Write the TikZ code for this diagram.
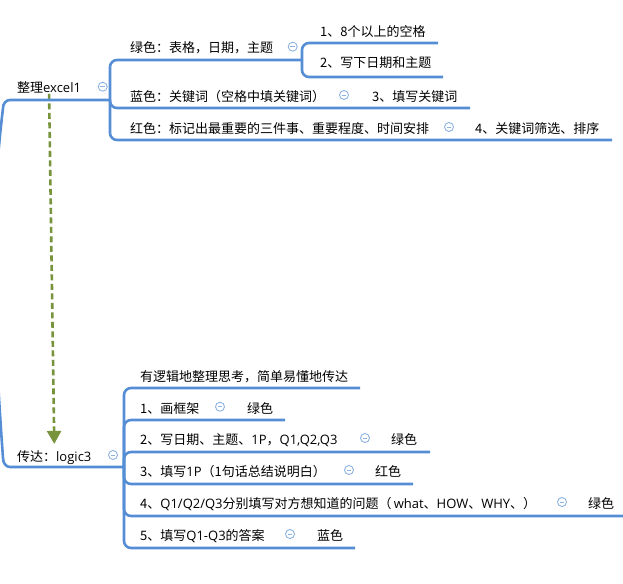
\documentclass[tikz,border=0pt]{standalone}
\usepackage{fontspec}
\setmainfont{Noto Sans CJK SC}
\newfontfamily\latinfont{Open Sans}
\newcommand\en[1]{{\latinfont #1}}
\usepackage{tikz}
\usetikzlibrary{arrows.meta}
\usepackage{xcolor}
\definecolor{bluecustom}{RGB}{85,142,213}
\definecolor{iconcustom}{RGB}{141,179,226}
\definecolor{greencustom}{RGB}{119,147,60}

\tikzset{
  branch/.style={draw=bluecustom, line width=2.6pt, rounded corners=7pt},
  topic/.style={anchor=base west, inner sep=0pt, font=\fontsize{13}{15}\selectfont},
  fold/.style={circle, draw=iconcustom, line width=0.9pt, minimum size=9pt, inner sep=0pt,
    path picture={\draw[iconcustom, line width=0.9pt]
      ([xshift=-2.3pt]path picture bounding box.center) -- ([xshift=2.3pt]path picture bounding box.center);}},
  relation/.style={draw=greencustom, line width=2.6pt, dash pattern=on 6pt off 3.5pt,
    -{Triangle[width=14pt,length=13pt]}}
}

\begin{document}
\begin{tikzpicture}[x=1pt, y=-1pt]
    \clip (0,0) rectangle (623,583);

    % upper topic
    \node[topic] (ex) at (17,93) {整理\en{excel1}};
    \node[topic] (gr) at (130,53) {绿色：表格，日期，主题};
    \node[topic] (gr1) at (320,37) {1、8个以上的空格};
    \node[topic] (gr2) at (320,68) {2、写下日期和主题};
    \node[topic] (bl) at (130,101.5) {蓝色：关键词（空格中填关键词）};
    \node[topic] (bl1) at (372,101.5) {3、填写关键词};
    \node[topic] (rd) at (130,133) {红色：标记出最重要的三件事、重要程度、时间安排};
    \node[topic] (rd1) at (475,133) {4、关键词筛选、排序};

    % lower topic
    \node[topic] (lg) at (17,461) {传达：\en{logic3}};
    \node[topic] (lg0) at (140,381.5) {有逻辑地整理思考，简单易懂地传达};
    \node[topic] (lg1) at (140,413) {1、画框架};
    \node[topic] (lg1c) at (247,413) {绿色};
    \node[topic] (lg2) at (140,444.5) {2、写日期、主题、\en{1P}，\en{Q1,Q2,Q3}};
    \node[topic] (lg2c) at (391,444.5) {绿色};
    \node[topic] (lg3) at (140,476.5) {3、填写\en{1P}（1句话总结说明白）};
    \node[topic] (lg3c) at (375,476.5) {红色};
    \node[topic] (lg4) at (140,508) {4、\en{Q1/Q2/Q3}分别填写对方想知道的问题（\,\en{what}、\en{HOW}、\en{WHY}、）};
    \node[topic] (lg4c) at (588,508) {绿色};
    \node[topic] (lg5) at (140,540) {5、填写\en{Q1-Q3}的答案};
    \node[topic] (lg5c) at (317,540) {蓝色};

    % collapse marks
    \node[fold] (f-ex) at (102.7,86.7) {};
    \node[fold] (f-gr) at (292.7,46.7) {};
    \node[fold] (f-bl) at (344,95) {};
    \node[fold] (f-rd) at (449,127) {};
    \node[fold] (f-lg) at (113,455) {};
    \node[fold] (f-lg1) at (220,406.7) {};
    \node[fold] (f-lg2) at (365,438) {};
    \node[fold] (f-lg3) at (349,470) {};
    \node[fold] (f-lg4) at (562,502) {};
    \node[fold] (f-lg5) at (290,534) {};

    % line ends
    \coordinate (ex-in) at (110,100);
    \coordinate (gr-in) at (302,60);
    \coordinate (lg-in) at (124,467);

    % relation
    \draw[relation] (ex.south) -- ([yshift=6pt]lg.north);

    % root curve
    \draw[branch, rounded corners=0pt] (ex-in) -- (10,100) to[out=180,in=90] (3,108)
        .. controls (-9,210) and (-9,290) .. (3,458) to[out=-90,in=180] (10,467) -- (lg-in);

    % upper branches
    \draw[branch] (ex-in) |- (gr-in);
    \draw[branch] (gr-in) |- (438,43);
    \draw[branch] (gr-in) |- (443,77);
    \draw[branch] (ex-in) |- (470,108);
    \draw[branch] (ex-in) |- (612,140);

    % lower branches
    \draw[branch] (lg-in) |- (360,388);
    \draw[branch] (lg-in) |- (285,420);
    \draw[branch] (lg-in) |- (430,452);
    \draw[branch] (lg-in) |- (413,484);
    \draw[branch] (lg-in) |- (623,516);
    \draw[branch] (lg-in) |- (355,548);
\end{tikzpicture}
\end{document}
